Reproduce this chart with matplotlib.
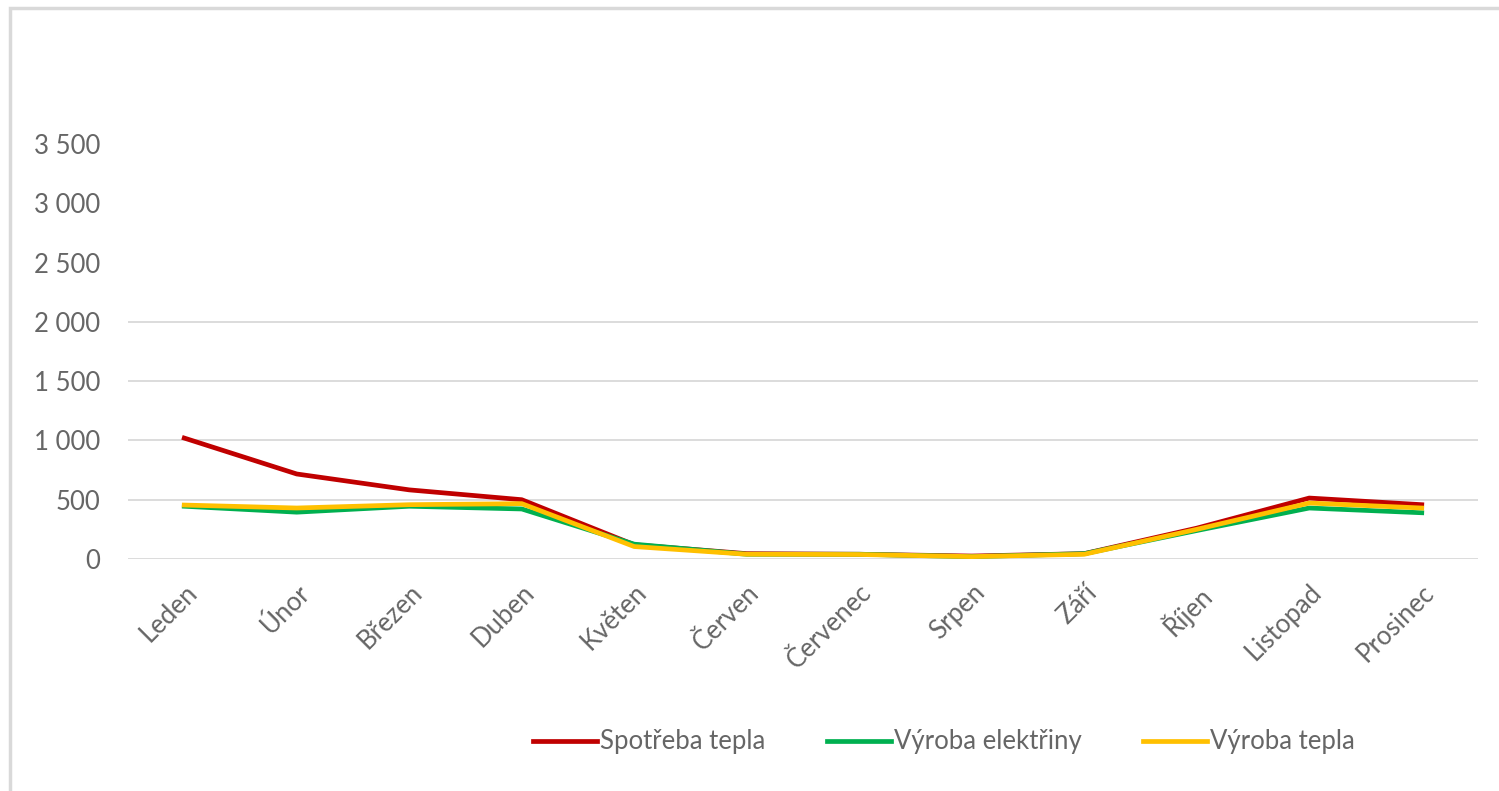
import matplotlib.pyplot as plt
from matplotlib.patches import Rectangle

# Měsíce a hodnoty
mesice = ['Leden', 'Únor', 'Březen', 'Duben', 'Květen', 'Červen',
          'Červenec', 'Srpen', 'Září', 'Říjen', 'Listopad', 'Prosinec']
spotreba_tepla = [1020, 717, 583, 500, 120, 45, 40, 25, 45, 260, 514, 458]
vyroba_elektriny = [445, 395, 445, 422, 125, 40, 40, 20, 45, 240, 430, 390]
vyroba_tepla = [455, 430, 458, 467, 105, 40, 38, 20, 40, 250, 472, 430]
y_ticks = [0, 500, 1000, 1500, 2000, 2500, 3000, 3500]
grid_values = [0, 500, 1000, 1500, 2000]

W, H = 1499, 791
fig = plt.figure(figsize=(W / 100, H / 100), dpi=100)
plt.rcParams['font.family'] = ['Lato', 'DejaVu Sans']

# Rámeček grafu (pokračuje za okraj obrázku)
fig.patches.append(Rectangle((10 / W, -0.1), 1.2, 1 - 8 / H + 0.1,
                             transform=fig.transFigure, fill=False,
                             edgecolor='#d9d9d9', linewidth=2.5))

ax = fig.add_axes([128 / W, 1 - 559 / H, (1478 - 128) / W, (559 - 144) / H])
x = list(range(len(mesice)))

for v in grid_values:
    ax.axhline(v, color='#d9d9d9', linewidth=1.3, zorder=0)

ax.plot(x, spotreba_tepla, color='#C00000', linewidth=3.4, label='Spotřeba tepla')
ax.plot(x, vyroba_elektriny, color='#00B050', linewidth=3.4, label='Výroba elektřiny')
ax.plot(x, vyroba_tepla, color='#FFC000', linewidth=3.4, label='Výroba tepla')

ax.set_xlim(-0.5, len(mesice) - 0.5)
ax.set_ylim(0, 3500)
ax.set_yticks(y_ticks)
ax.set_yticklabels([f'{v:,}'.replace(',', ' ') for v in y_ticks])
ax.set_xticks(x)
ax.set_xticklabels(mesice, rotation=45, ha='right', rotation_mode='anchor')
ax.tick_params(axis='both', length=0, colors='#666666', labelsize=18.5)
ax.tick_params(axis='y', pad=20)
ax.tick_params(axis='x', pad=15)
for s in ax.spines.values():
    s.set_visible(False)

fig.legend(loc='center', bbox_to_anchor=(944 / W, 1 - 742 / H), ncol=3,
           frameon=False, fontsize=18.5, handlelength=2.5, columnspacing=2.4,
           handletextpad=0.1, labelcolor='#666666')

fig.savefig('out.png', dpi=100, facecolor='white')
